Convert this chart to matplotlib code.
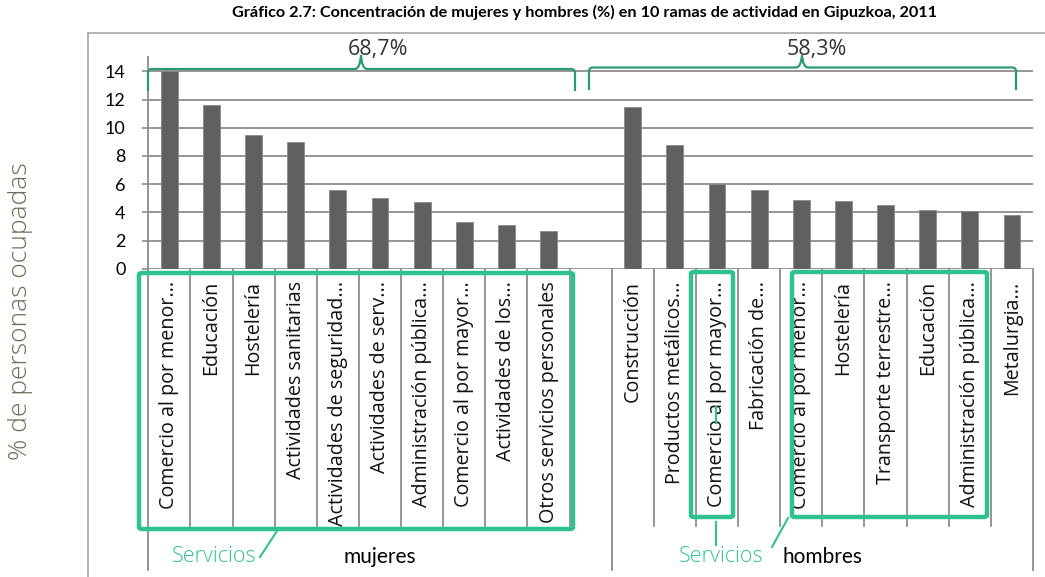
import matplotlib
matplotlib.use("Agg")
import matplotlib.pyplot as plt
from matplotlib.path import Path
from matplotlib.patches import PathPatch, FancyBboxPatch
from matplotlib.lines import Line2D
from matplotlib.transforms import blended_transform_factory

# ---------------- data ----------------
title = "Gráfico 2.7: Concentración de mujeres y hombres (%) en 10 ramas de actividad en Gipuzkoa, 2011"
ylabel = "% de personas ocupadas"

categories_mujeres = ["Comercio al por menor...", "Educación", "Hostelería",
                      "Actividades sanitarias", "Actividades de seguridad...",
                      "Actividades de serv...", "Administración pública...",
                      "Comercio al por mayor...", "Actividades de los...",
                      "Otros servicios personales"]
values_mujeres = [14.0, 11.6, 9.5, 9.0, 5.6, 5.0, 4.7, 3.3, 3.1, 2.7]

categories_hombres = ["Construcción", "Productos metálicos...", "Comercio al por mayor...",
                      "Fabricación de...", "Comercio al por menor...", "Hostelería",
                      "Transporte terrestre...", "Educación", "Administración pública...",
                      "Metalurgia..."]
values_hombres = [11.5, 8.8, 6.0, 5.6, 4.9, 4.8, 4.5, 4.2, 4.1, 3.8]

group_labels = ["mujeres", "hombres"]
group_totals = ["68,7%", "58,3%"]
yticks = [0, 2, 4, 6, 8, 10, 12, 14]

# ---------------- layout helpers ----------------
W, H = 1045, 577
fig = plt.figure(figsize=(W / 100, H / 100), dpi=100)

def fx(px):
    return px / W

def fy(py):
    return 1 - py / H

GRID = "#8c8c8c"
BAR = "#606060"
BRACE = "#2a9b76"
BOX = "#2fc290"

ax_left, ax_right = 148.3, 1033.0
y0_px, per_unit = 268.7, 14.09
ymax = 15
ax = fig.add_axes([fx(ax_left), fy(y0_px), fx(ax_right) - fx(ax_left),
                   (ymax * per_unit) / H])

n_w = len(categories_mujeres)
x_w = list(range(n_w))
x_h = [n_w + 1 + i for i in range(len(categories_hombres))]
ax.set_xlim(-0.5, x_h[-1] + 0.5)
ax.set_ylim(0, ymax)

ax.bar(x_w, values_mujeres, width=0.4, color=BAR, edgecolor="#8a8a8a", lw=0.6, zorder=3)
ax.bar(x_h, values_hombres, width=0.4, color=BAR, edgecolor="#8a8a8a", lw=0.6, zorder=3)

ax.set_yticks(yticks)
ax.set_yticklabels([str(v) for v in yticks], fontsize=13, family="Lato")
ax.yaxis.grid(True, color=GRID, lw=1.3, zorder=0)
ax.set_xticks([])
for s in ["top", "right", "bottom"]:
    ax.spines[s].set_visible(False)
ax.spines["left"].set_color(GRID)
ax.spines["left"].set_linewidth(1.3)
ax.tick_params(axis="y", length=4.5, width=1.2, color=GRID, pad=12)

# category labels
trans = blended_transform_factory(ax.transData, fig.transFigure)
for xs, labs in ((x_w, categories_mujeres), (x_h, categories_hombres)):
    for x, lab in zip(xs, labs):
        ax.text(x, fy(281), lab, transform=trans, rotation=90, ha="center", va="top",
                fontsize=14.2, family="Open Sans", color="#111111")

# separators (multi-level axis)
n_slots = x_h[-1] + 1
long_idx = {0, n_w + 1, n_slots}
for i in range(n_slots + 1):
    x = i - 0.5
    ybot = fy(570) if i in long_idx else fy(526)
    fig.add_artist(Line2D([x, x], [fy(y0_px), ybot], transform=trans, color=GRID,
                          lw=1.3, zorder=2))

# group labels
ax.text((x_w[0] + x_w[-1] + 1) / 2, fy(557), group_labels[0], transform=trans,
        ha="center", va="center", fontsize=15, family="Lato")
ax.text((x_h[0] + x_h[-1]) / 2, fy(557), group_labels[1], transform=trans,
        ha="center", va="center", fontsize=15, family="Lato")

# outer frame
fig.add_artist(Line2D([fx(88), fx(88)], [fy(32.5), fy(580)], transform=fig.transFigure,
                      color="#a6a6a6", lw=1.2))
fig.add_artist(Line2D([fx(88), fx(1046)], [fy(32.5), fy(32.5)], transform=fig.transFigure,
                      color="#a6a6a6", lw=1.2))

# title
fig.text(fx(584), fy(12), title, ha="center", va="center", fontsize=11.7,
         fontweight="bold", family="Lato")

# y label
fig.text(fx(21), fy(311), ylabel, rotation=90, ha="center", va="center",
         fontsize=19, family="Open Sans", fontweight="light", color="#6e6a58")

# braces
def brace(x0, x1, xm, yh, yend, ypk, r=4, w=6):
    pts = [(x0, yend), (x0, yh + r), (x0, yh), (x0 + r, yh), (xm - w, yh),
           (xm - 1, yh), (xm, ypk), (xm + 1, yh), (xm + w, yh), (x1 - r, yh),
           (x1, yh), (x1, yh + r), (x1, yend)]
    codes = [Path.MOVETO, Path.LINETO, Path.CURVE3, Path.CURVE3, Path.LINETO,
             Path.CURVE3, Path.CURVE3, Path.CURVE3, Path.CURVE3, Path.LINETO,
             Path.CURVE3, Path.CURVE3, Path.LINETO]
    p = Path([(fx(a), fy(b)) for a, b in pts], codes)
    fig.add_artist(PathPatch(p, transform=fig.transFigure, fill=False,
                             edgecolor=BRACE, lw=1.6))

brace(148, 575, 361, 69, 91, 55)
brace(589, 1016, 802, 67.5, 90, 55)
fig.text(fx(378), fy(49), group_totals[0], ha="center", va="center", fontsize=15.5,
         family="Open Sans", color="#333333", zorder=5)
fig.text(fx(817), fy(50), group_totals[1], ha="center", va="center", fontsize=15.5,
         family="Open Sans", color="#333333", zorder=5)

# Servicios highlight boxes
def box(x0, y0, x1, y1):
    fig.add_artist(FancyBboxPatch((fx(x0), fy(y1)), fx(x1) - fx(x0), fy(y0) - fy(y1),
                                  boxstyle="round,pad=0,rounding_size=0.003",
                                  transform=fig.transFigure, fill=False,
                                  edgecolor=BOX, lw=3.2, zorder=6))

box(139, 273, 573, 529)
box(691, 272, 733, 517)
box(792, 272, 987, 517)

def gline(xa, ya, xb, yb):
    fig.add_artist(Line2D([fx(xa), fx(xb)], [fy(ya), fy(yb)], transform=fig.transFigure,
                          color=BOX, lw=1.5, zorder=6))

gline(260, 557, 277, 531)
gline(716, 522, 716, 545)
gline(772, 547, 788, 518)
gline(716, 407, 716, 423)

fig.text(fx(214), fy(557), "Servicios", ha="center", va="center", fontsize=15.5,
         family="Open Sans", fontweight="light", color=BOX)
fig.text(fx(721), fy(557), "Servicios", ha="center", va="center", fontsize=15.5,
         family="Open Sans", fontweight="light", color=BOX)

fig.savefig("out.png", dpi=100)
